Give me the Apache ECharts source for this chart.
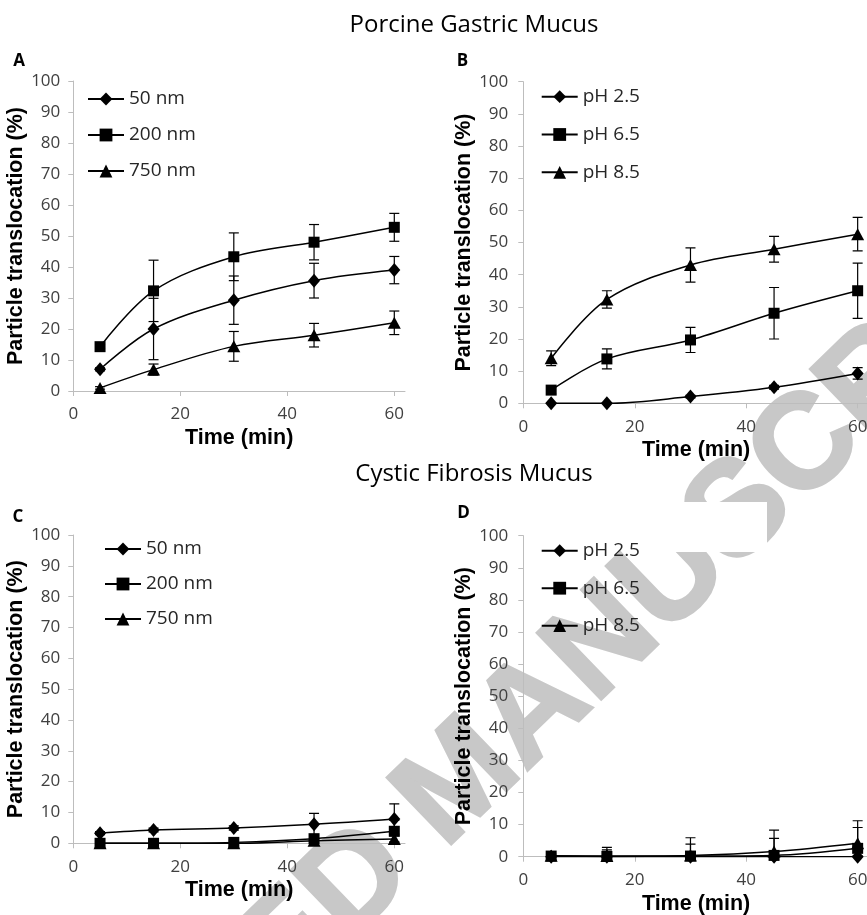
<!DOCTYPE html>
<html><head><meta charset="utf-8">
<script src="https://cdn.jsdelivr.net/npm/echarts@6/dist/echarts.min.js"></script>
<style>html,body{margin:0;padding:0;background:#fff}#c{width:867px;height:915px}</style>
</head><body><div id="c"></div>
<script>
// ---- data ----
const times = [5, 15, 30, 45, 60];
const xTicks = [0, 20, 40, 60];
const sizeNames = ['50 nm', '200 nm', '750 nm'];
const phNames = ['pH 2.5', 'pH 6.5', 'pH 8.5'];
// A: porcine gastric mucus, particle size
const pgmSize50 = [7.0, 20.0, 29.3, 35.6, 39.0];
const pgmSize50Err = [0.5, 9.9, 7.8, 5.6, 4.4];
const pgmSize200 = [14.3, 32.3, 43.3, 48.0, 52.8];
const pgmSize200Err = [0.6, 9.9, 7.7, 5.7, 4.5];
const pgmSize750 = [1.0, 6.9, 14.4, 18.0, 22.0];
const pgmSize750Err = [0.4, 1.8, 4.8, 3.8, 3.8];
// B: porcine gastric mucus, pH
const pgmPh25 = [0, 0, 2.1, 5.0, 9.3];
const pgmPh25Err = [0.2, 0.2, 0.4, 0.6, 1.8];
const pgmPh65 = [4.1, 13.8, 19.7, 28.0, 35.0];
const pgmPh65Err = [1.2, 3.1, 3.9, 8.0, 8.6];
const pgmPh85 = [14.0, 32.3, 43.0, 47.9, 52.6];
const pgmPh85Err = [2.3, 2.7, 5.3, 4.0, 5.2];
// C: cystic fibrosis mucus, particle size
const cfSize50 = [3.3, 4.3, 5.0, 6.2, 7.9];
const cfSize50Err = [0.5, 0.6, 0.7, 3.5, 4.9];
const cfSize200 = [0, 0, 0.3, 1.5, 3.9];
const cfSize200Err = [0.2, 0.3, 0.5, 1.0, 3.5];
const cfSize750 = [0, 0, 0, 0.8, 1.4];
const cfSize750Err = [0, 0, 0, 0.5, 1.0];
// D: cystic fibrosis mucus, pH
const cfPh25 = [0, 0, 0, 0, 0];
const cfPh25Err = [0, 0, 0, 0, 0.3];
const cfPh65 = [0.2, 0.1, 0.2, 0.4, 2.6];
const cfPh65Err = [0.4, 2.0, 3.7, 5.3, 6.5];
const cfPh85 = [0.3, 0.2, 0.4, 1.6, 4.2];
const cfPh85Err = [0.6, 2.7, 5.5, 6.7, 7.0];

// ---- layout / style ----
const panels = [
  {names: sizeNames, vals: [pgmSize50, pgmSize200, pgmSize750], errs: [pgmSize50Err, pgmSize200Err, pgmSize750Err],
   grid: {left: 73.3, top: 81, width: 331.7, height: 310}, yGap: 39, yMargin: 13,
   legend: {left: 87, top: 89.5, itemGap: 17}},
  {names: phNames, vals: [pgmPh25, pgmPh65, pgmPh85], errs: [pgmPh25Err, pgmPh65Err, pgmPh85Err],
   grid: {left: 523.3, top: 81.7, width: 345.5, height: 321.6}, yGap: 42, yMargin: 15,
   legend: {left: 540.7, top: 87.2, itemGap: 18.8}},
  {names: sizeNames, vals: [cfSize50, cfSize200, cfSize750], errs: [cfSize50Err, cfSize200Err, cfSize750Err],
   grid: {left: 73.3, top: 535, width: 331.7, height: 308.3}, yGap: 39, yMargin: 13,
   legend: {left: 104, top: 539.5, itemGap: 16}},
  {names: phNames, vals: [cfPh25, cfPh65, cfPh85], errs: [cfPh25Err, cfPh65Err, cfPh85Err],
   grid: {left: 523.3, top: 535.7, width: 345.5, height: 321}, yGap: 42, yMargin: 15,
   legend: {left: 540.7, top: 541.2, itemGap: 18.5}}
];
const symbols = [['diamond', [12, 14]], ['rect', [11, 11]], ['triangle', [13, 12]]];
const axisGray = '#bdbdbd';
const labelColor = '#404040';

const grids = [], xAxes = [], yAxes = [], series = [], legends = [];
panels.forEach((p, g) => {
  grids.push(Object.assign({containLabel: false, outerBoundsMode: 'none'}, p.grid));
  xAxes.push({
    type: 'value', gridIndex: g, min: 0, max: 62, interval: 20,
    axisLine: {show: true, lineStyle: {color: axisGray, width: 1}},
    axisTick: {show: true, length: 5, customValues: xTicks, lineStyle: {color: axisGray}},
    axisLabel: {customValues: xTicks, fontFamily: 'Open Sans', fontSize: 17, color: labelColor, margin: 15},
    splitLine: {show: false},
    name: 'Time (min)', nameLocation: 'middle', nameGap: 36,
    nameTextStyle: {fontFamily: 'Liberation Sans', fontWeight: 'bold', fontSize: 21.5, color: '#000'}
  });
  yAxes.push({
    type: 'value', gridIndex: g, min: 0, max: 100, interval: 10,
    axisLine: {show: true, lineStyle: {color: axisGray, width: 1}},
    axisTick: {show: true, length: 5, lineStyle: {color: axisGray}},
    axisLabel: {fontFamily: 'Open Sans', fontSize: 17, color: labelColor, margin: p.yMargin},
    splitLine: {show: false},
    name: 'Particle translocation (%)', nameLocation: 'middle', nameGap: p.yGap,
    nameTextStyle: {fontFamily: 'Liberation Sans', fontWeight: 'bold', fontSize: 21.5, color: '#000'}
  });
  p.names.forEach((nm, k) => {
    series.push({
      type: 'line', name: nm, xAxisIndex: g, yAxisIndex: g,
      data: times.map((t, i) => [t, p.vals[k][i]]),
      smooth: 0.35, symbol: symbols[k][0], symbolSize: symbols[k][1], showSymbol: true,
      lineStyle: {color: '#000', width: 1.5}, itemStyle: {color: '#000'},
      z: 3, emphasis: {disabled: true}, animation: false
    });
  });
  p.names.forEach((nm, k) => {
    series.push({
      type: 'custom', name: nm + ' error', xAxisIndex: g, yAxisIndex: g, clip: true, z: 2,
      data: times.map((t, i) => [t, p.vals[k][i] - p.errs[k][i], p.vals[k][i] + p.errs[k][i]]),
      encode: {x: 0, y: [1, 2]},
      renderItem: function (params, api) {
        const x = api.value(0);
        const lo = api.coord([x, api.value(1)]);
        const hi = api.coord([x, api.value(2)]);
        const w = 5, st = {stroke: '#000', lineWidth: 1.2};
        return {type: 'group', children: [
          {type: 'line', shape: {x1: lo[0], y1: lo[1], x2: hi[0], y2: hi[1]}, style: st},
          {type: 'line', shape: {x1: hi[0] - w, y1: hi[1], x2: hi[0] + w, y2: hi[1]}, style: st},
          {type: 'line', shape: {x1: lo[0] - w, y1: lo[1], x2: lo[0] + w, y2: lo[1]}, style: st}
        ]};
      },
      animation: false
    });
  });
  legends.push({
    data: p.names, orient: 'vertical', left: p.legend.left, top: p.legend.top,
    itemGap: p.legend.itemGap, itemWidth: 36, itemHeight: 16, selectedMode: false, padding: 0,
    textStyle: {fontFamily: 'Open Sans', fontSize: 19, color: '#262626'}
  });
});

function txt(s, x, y, font, fill) {
  return {type: 'text', x: x, y: y, style: {text: s, font: font, fill: fill || '#000',
    textAlign: 'center', textVerticalAlign: 'middle', align: 'center', verticalAlign: 'middle'}};
}

const chart = echarts.init(document.getElementById('c'), null, {renderer: 'canvas'});
chart.setOption({
  animation: false,
  backgroundColor: '#fff',
  grid: grids, xAxis: xAxes, yAxis: yAxes, legend: legends, series: series,
  graphic: [
    {type: 'group', z: -10, children: [
      {type: 'text', x: 462, y: 782, rotation: 44 * Math.PI / 180,
       style: {text: 'ACCEPTED MANUSCRIPT', font: 'bold 134px "Liberation Sans"', fill: '#c8c8c8',
               stroke: '#c8c8c8', lineWidth: 3, lineJoin: 'round',
               textAlign: 'center', textVerticalAlign: 'middle', align: 'center', verticalAlign: 'middle'}},
      {type: 'rect', shape: {x: 640, y: 502, width: 127, height: 50}, style: {fill: '#fff'}}
    ]},
    txt('Porcine Gastric Mucus', 474, 25, '24px "Open Sans"'),
    txt('Cystic Fibrosis Mucus', 474, 474.5, '24px "Open Sans"'),
    txt('A', 19, 61.5, 'bold 17px "Open Sans"'),
    txt('B', 462.5, 61, 'bold 17px "Open Sans"'),
    txt('C', 18, 517.5, 'bold 17px "Open Sans"'),
    txt('D', 463.5, 513.5, 'bold 17px "Open Sans"')
  ]
});
</script></body></html>
